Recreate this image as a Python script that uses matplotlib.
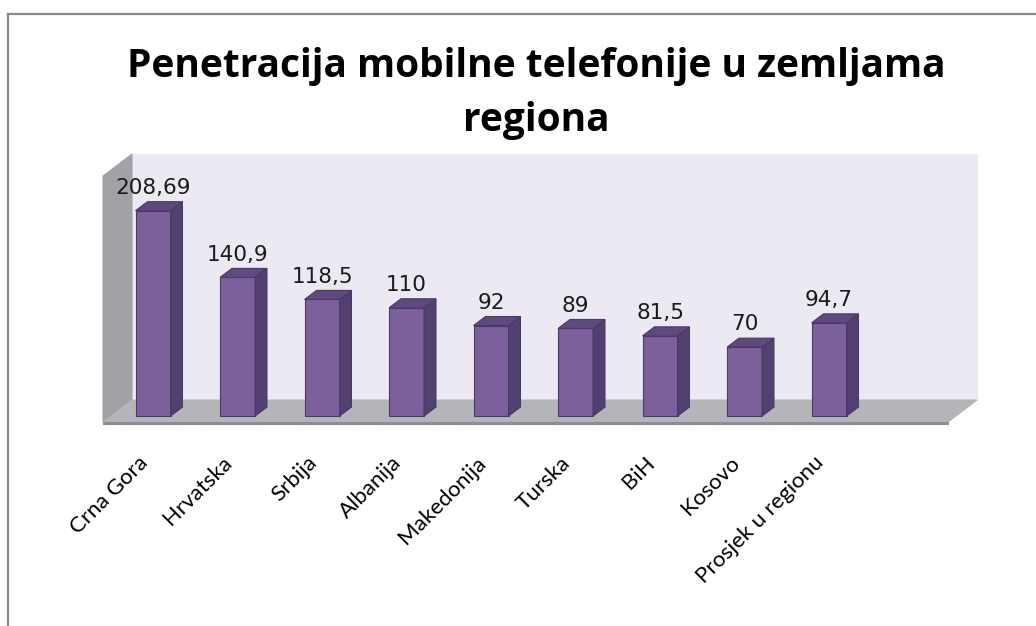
import matplotlib.pyplot as plt
from matplotlib.lines import Line2D

categories = ["Crna Gora", "Hrvatska", "Srbija", "Albanija", "Makedonija",
              "Turska", "BiH", "Kosovo", "Prosjek u regionu"]
values = [208.69, 140.9, 118.5, 110, 92, 89, 81.5, 70, 94.7]
value_labels = ["208,69", "140,9", "118,5", "110", "92", "89", "81,5", "70", "94,7"]

TITLE = "Penetracija mobilne telefonije u zemljama\nregiona"

Y_MAX = 250
N_SLOTS = 10  # one empty slot on the right, like the original

# 3d box depth, data units per unit depth
DX = 29 / 84.5
DY = 22 / 0.984

BAR_D0 = 0.27
BAR_D1 = 0.68
BAR_HW = 0.207

FRONT = "#7B609B"
SIDE = "#52406E"
TOP = "#5E4A7E"
EDGE = "#4A3866"


def proj(x, v, d):
    return x + DX * d, v + DY * d


fig = plt.figure(figsize=(10.36, 6.26), dpi=100)
ax = fig.add_axes([103 / 1036, 204 / 626, 845 / 1036, 246 / 626])
ax.set_xlim(0, N_SLOTS)
ax.set_ylim(0, Y_MAX)
ax.axis('off')


def face(pts, color, edge=None, z=1, lw=0.8):
    xs, ys = zip(*[proj(*p) for p in pts])
    ax.fill(xs, ys, color=color, ec=edge or color, lw=lw, zorder=z, clip_on=False)


# walls and floor
face([(0, 0, 1), (N_SLOTS, 0, 1), (N_SLOTS, Y_MAX, 1), (0, Y_MAX, 1)], "#ECE9F2", z=1)
face([(0, 0, 0), (0, 0, 1), (0, Y_MAX, 1), (0, Y_MAX, 0)], "#A2A2A6", z=2)
face([(0, 0, 0), (N_SLOTS, 0, 0), (N_SLOTS, 0, 1), (0, 0, 1)], "#B5B5B9", z=2)
face([(0, 0, 0), (N_SLOTS, 0, 0), (N_SLOTS, -2.5, 0), (0, -2.5, 0)], "#8E8E92", z=2)

# bars
for i, (v, lbl, name) in enumerate(zip(values, value_labels, categories)):
    c = i + 0.5
    l, r = c - BAR_HW, c + BAR_HW
    face([(l, 0, BAR_D0), (r, 0, BAR_D0), (r, v, BAR_D0), (l, v, BAR_D0)], FRONT, EDGE, z=5)
    face([(r, 0, BAR_D0), (r, 0, BAR_D1), (r, v, BAR_D1), (r, v, BAR_D0)], SIDE, EDGE, z=5)
    face([(l, v, BAR_D0), (r, v, BAR_D0), (r, v, BAR_D1), (l, v, BAR_D1)], TOP, EDGE, z=5)

    tx, ty = proj(c, v, BAR_D0)
    ax.text(tx, ty + 17, lbl, ha='center', va='baseline', fontsize=15.5,
            family='DejaVu Sans', color='#1a1a1a', zorder=6, clip_on=False)

    ax.text(c - 0.09, -31, name, rotation=45, ha='right', va='top',
            rotation_mode='anchor', fontsize=16, family='Lato', color='black')

# title
fig.text(536 / 1036, 1 - 47 / 626, TITLE, ha='center', va='top', fontsize=28,
         fontweight='bold', family='Open Sans', linespacing=1.5)

# chart area border (top and left visible)
fig.add_artist(Line2D([7.5 / 1036, 7.5 / 1036], [0, 1 - 13.5 / 626],
                      transform=fig.transFigure, color='#8A8A8A', lw=1.6))
fig.add_artist(Line2D([7.5 / 1036, 1], [1 - 13.5 / 626, 1 - 13.5 / 626],
                      transform=fig.transFigure, color='#8A8A8A', lw=1.6))

fig.savefig('out.png', dpi=100)
